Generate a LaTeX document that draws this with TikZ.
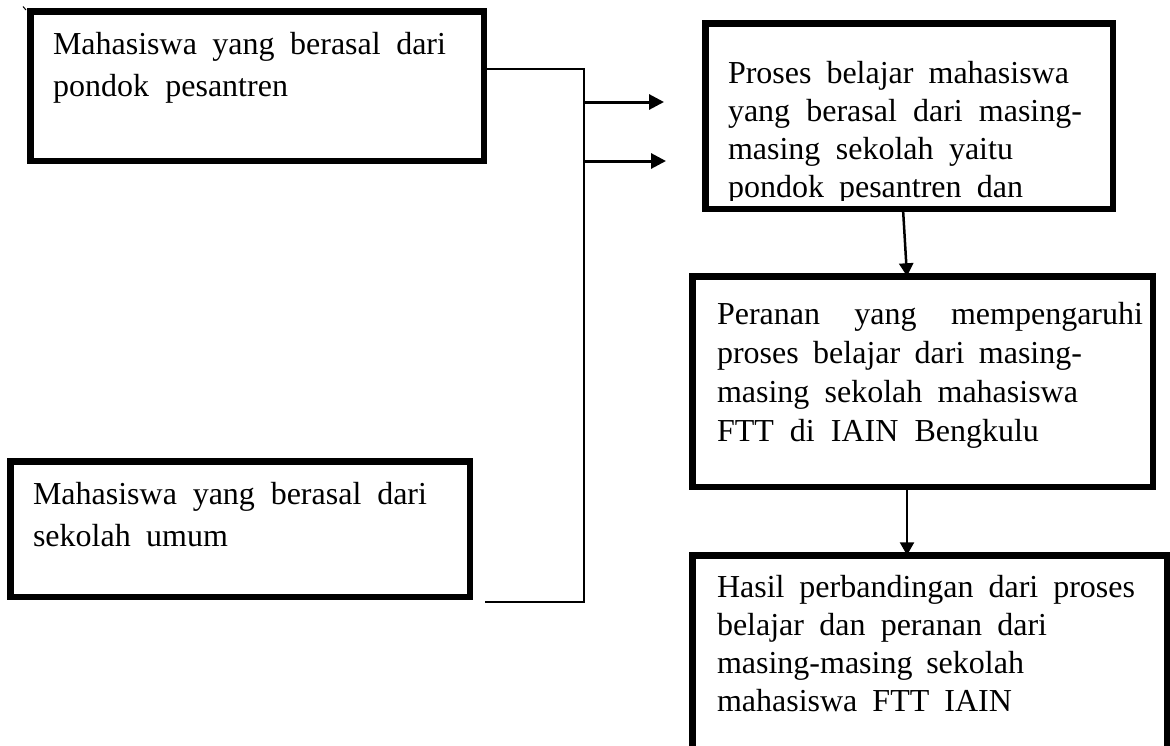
\documentclass[tikz,border=0pt]{standalone}
\usepackage{fontspec}
\setmainfont{Liberation Serif}
\usetikzlibrary{arrows.meta}
\newcommand\Tl[2]{\hbox{\makebox[#1pt][s]{#2}}}
\newcommand\Tb[2]{\vtop{\lineskiplimit=-100pt\lineskip=0pt\baselineskip=#1pt\relax #2}}
\begin{document}
\begin{tikzpicture}[x=1pt,y=-1pt,
  box/.style={draw, line width=6.5pt, rectangle, inner sep=0pt, outer sep=0pt, anchor=north west},
  txt/.style={inner sep=0pt, outer sep=0pt, anchor=base west, font=\fontsize{32}{40}\selectfont},
  conn/.style={line width=2.2pt},
  harr/.style={line width=3pt, -{Triangle[length=15pt,width=15pt]}},
  varr/.style={line width=2.5pt, -{Triangle[length=13pt,width=14pt]}}]
\useasboundingbox (0,0) rectangle (1170,745);
% boxes
\node[box, minimum width=453.5pt, minimum height=149.5pt] (A) at (30.25,11.25) {};
\node[box, minimum width=459.5pt, minimum height=135.5pt] (B) at (10.25,461.25) {};
\node[box, minimum width=407.5pt, minimum height=185.5pt] (C) at (705.25,23.25) {};
\node[box, minimum width=460.5pt, minimum height=210.5pt] (D) at (692.25,276.25) {};
\node[box, minimum width=474.5pt, minimum height=220pt] (E) at (692.25,555.25) {};
% texts
\node[txt] (At) at (53,54) {\Tb{42}{\Tl{393}{Mahasiswa yang berasal dari}\Tl{235}{pondok pesantren}}};
\node[txt] (Bt) at (33,504) {\Tb{42}{\Tl{394}{Mahasiswa yang berasal dari}\Tl{195}{sekolah umum}}};
\begin{scope}
\clip (705,26) rectangle (1113,200);
\node[txt] (Ct) at (728,83) {\Tb{38}{\Tl{341}{Proses belajar mahasiswa}\Tl{354}{yang berasal dari masing-}\Tl{285}{masing sekolah yaitu}\Tl{295}{pondok pesantren dan}}};
\end{scope}
\node[txt] (Dt) at (717,324) {\Tb{39}{\Tl{426}{Peranan yang mempengaruhi}\Tl{365}{proses belajar dari masing-}\Tl{361}{masing sekolah mahasiswa}\Tl{322}{FTT di IAIN Bengkulu}}};
\node[txt] (Et) at (717,597) {\Tb{38}{\Tl{418}{Hasil perbandingan dari proses}\Tl{330}{belajar dan peranan dari}\Tl{307}{masing-masing sekolah}\Tl{295}{mahasiswa FTT IAIN}}};
% small mark
\coordinate (m1) at (23,6.5);
\coordinate (m2) at (26,10);
\draw[line width=1pt] (m1) -- (m2);
% connectors
\coordinate (j1) at (584,69);
\coordinate (j2) at (584,602);
\coordinate (b0) at (485,602);
\draw[conn] (A.east |- j1) -- (j1) -- (j2) -- (b0);
\coordinate (a1s) at (584,102);
\coordinate (a1e) at (664,102);
\coordinate (a2s) at (584,161);
\coordinate (a2e) at (666,161);
\draw[harr] (a1s) -- (a1e);
\draw[harr] (a2s) -- (a2e);
\coordinate (cx) at (903,0);
\coordinate (dx) at (907,0);
\draw[varr] (C.south -| cx) -- (D.north -| dx);
\draw[varr] (D.south -| dx) -- (E.north -| dx);
\end{tikzpicture}
\end{document}
